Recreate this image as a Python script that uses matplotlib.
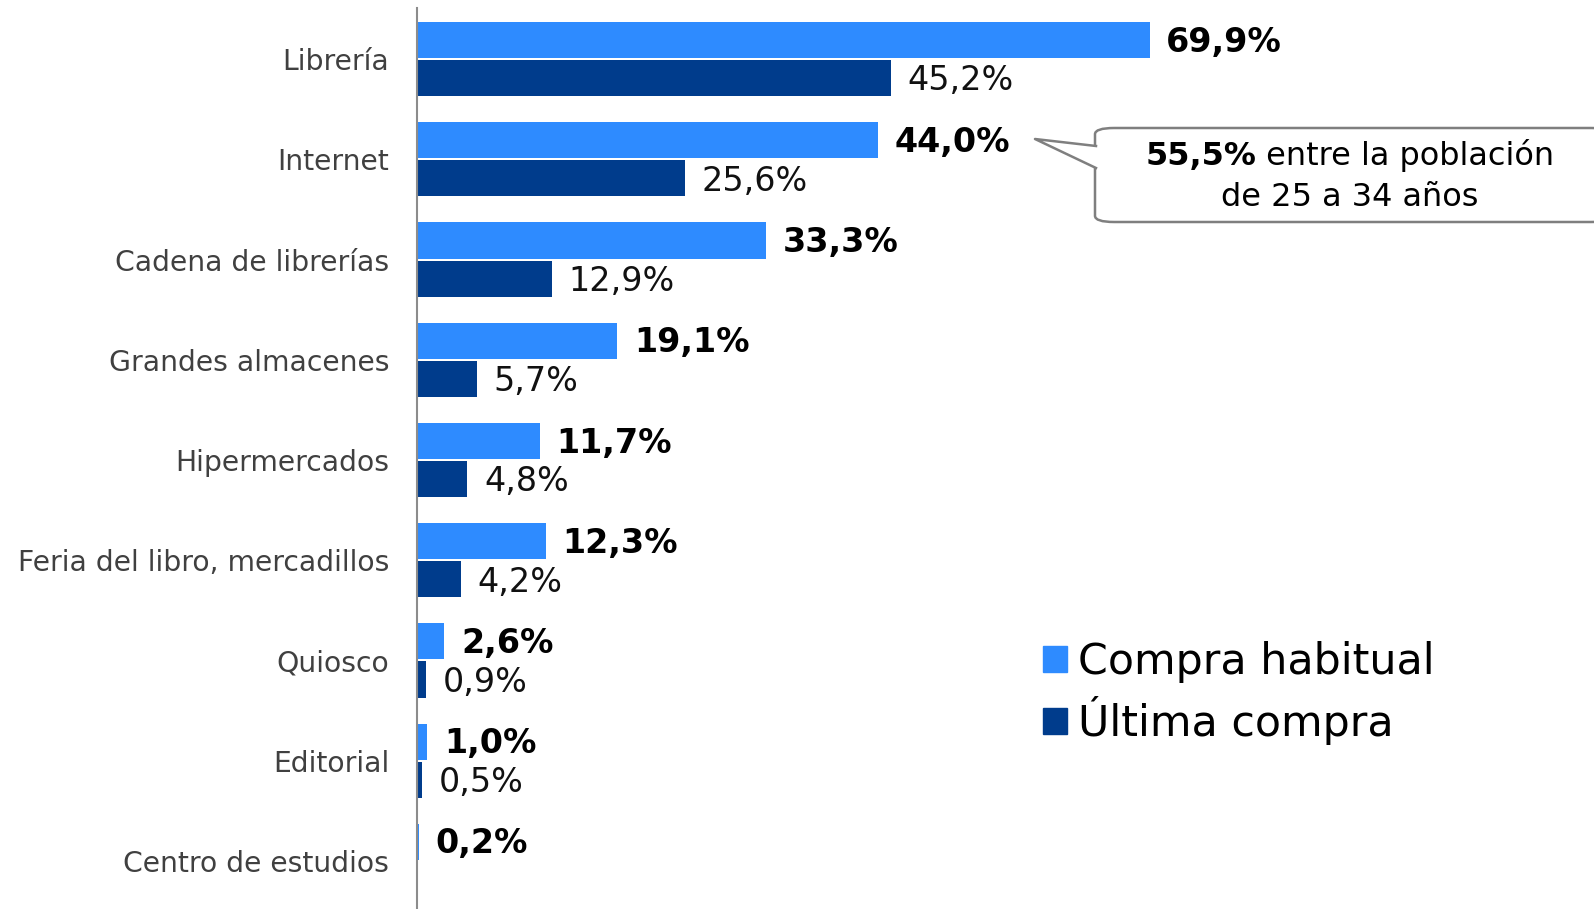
import matplotlib.pyplot as plt
import numpy as np
from matplotlib.patches import FancyBboxPatch, Polygon, Patch
from matplotlib.lines import Line2D
from matplotlib.font_manager import FontProperties

# datos
categorias = ["Librería", "Internet", "Cadena de librerías", "Grandes almacenes",
              "Hipermercados", "Feria del libro, mercadillos", "Quiosco",
              "Editorial", "Centro de estudios"]
habitual = [69.9, 44.0, 33.3, 19.1, 11.7, 12.3, 2.6, 1.0, 0.2]
ultima = [45.2, 25.6, 12.9, 5.7, 4.8, 4.2, 0.9, 0.5, None]
series = ["Compra habitual", "Última compra"]

C_HAB = "#2E8BFF"
C_ULT = "#003C8C"

W, H = 1594, 909
fig = plt.figure(figsize=(W / 100, H / 100), dpi=100)
ax = fig.add_axes([417 / W, 0, 1 - 417 / W, (H - 8) / H])


def fmt(v):
    return f"{v:.1f}".replace(".", ",") + "%"


y = np.arange(len(categorias))
h = 0.36
off = 0.19

for i, v in enumerate(habitual):
    ax.barh(y[i] - off, v, height=h, color=C_HAB)
    ax.annotate(fmt(v), (v, y[i] - off), xytext=(12, -1.5), textcoords="offset points",
                va="center", ha="left", fontsize=24, fontweight="bold", color="black")
for i, v in enumerate(ultima):
    if v is None:
        continue
    ax.barh(y[i] + off, v, height=h, color=C_ULT)
    ax.annotate(fmt(v), (v, y[i] + off), xytext=(12, -2), textcoords="offset points",
                va="center", ha="left", fontsize=24, color="#111111")

ax.set_xlim(0, (W - 417) / 10.48)
ax.set_ylim(8.48, -0.51)
ax.set_yticks(y)
ax.set_yticklabels(categorias, fontsize=20.3, color="#404040")
ax.tick_params(axis="y", length=0, pad=20)
ax.set_xticks([])
for s in ["top", "right", "bottom"]:
    ax.spines[s].set_visible(False)
ax.spines["left"].set_color("#8c8c8c")
ax.spines["left"].set_linewidth(1.5)

# leyenda
handles = [Patch(color=C_HAB), Patch(color=C_ULT)]
leg = fig.legend(handles, series, loc="upper left",
                 bbox_to_anchor=(1022 / W, 1 - 620 / H), frameon=False,
                 fontsize=30.8, handlelength=0.55, handleheight=0.55,
                 handletextpad=0.27, labelspacing=0.3, borderpad=0)


def px(x, yy):
    return (x / W, 1 - yy / H)


# globo de texto
x0, y0, x1, y1 = 1095, 128, 1610, 222
box = FancyBboxPatch(px(x0, y1), (x1 - x0) / W, (y1 - y0) / H,
                     boxstyle="round,pad=0,rounding_size=0.012",
                     transform=fig.transFigure, facecolor="white",
                     edgecolor="#7f7f7f", linewidth=1.8, mutation_aspect=H / W)
fig.add_artist(box)
tip = px(1035, 139)
b1 = px(1096, 146)
b2 = px(1096, 168)
fig.add_artist(Polygon([tip, b1, px(1100, 146), px(1100, 168), b2], closed=True,
                       transform=fig.transFigure, facecolor="white", edgecolor="none"))
fig.add_artist(Line2D([b1[0], tip[0], b2[0]], [b1[1], tip[1], b2[1]],
                      transform=fig.transFigure, color="#7f7f7f", linewidth=1.8))

fp = FontProperties(family="DejaVu Sans", size=23)
fpb = FontProperties(family="DejaVu Sans", weight="bold", size=23)
cx = 1350
r = fig.canvas.get_renderer()
ta = fig.text(0, 0, "55,5%", fontproperties=fpb, va="center")
tb = fig.text(0, 0, " entre la población", fontproperties=fp, va="center")
wa = ta.get_window_extent(r).width
wb = tb.get_window_extent(r).width
xs = cx - (wa + wb) / 2
ta.set_position(px(xs, 156))
tb.set_position(px(xs + wa, 156))
fig.text(*px(cx, 198), "de 25 a 34 años", fontproperties=fp,
         ha="center", va="center")

fig.savefig("out.png", dpi=100)
